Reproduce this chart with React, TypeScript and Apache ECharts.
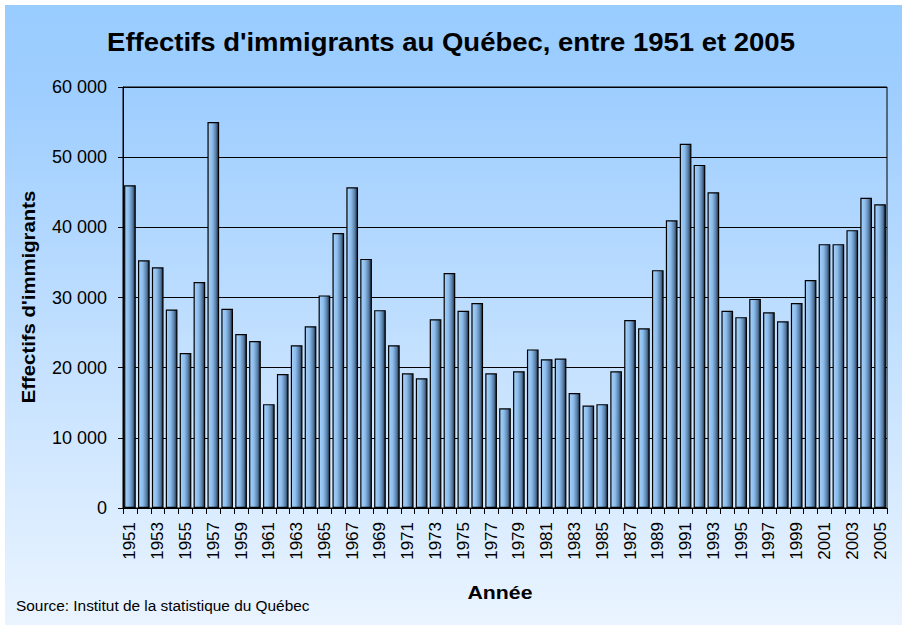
import React, { useEffect, useRef } from "react";
import * as echarts from "echarts";

const years: string[] = [];
for (let y = 1951; y <= 2005; y++) years.push(String(y));

const immigrants: number[] = [
  46000, 35300, 34300, 28300, 22100, 32200, 55000, 28400, 24800, 23800,
  14800, 19100, 23200, 25900, 30300, 39200, 45700, 35500, 28200, 23200,
  19200, 18500, 26900, 33500, 28100, 29200, 19200, 14200, 19500, 22600,
  21200, 21300, 16400, 14600, 14800, 19500, 26800, 25600, 33900, 41000,
  51900, 48900, 45000, 28100, 27200, 29800, 27900, 26600, 29200, 32500,
  37600, 37600, 39600, 44200, 43300,
];

const yTicks = [0, 10000, 20000, 30000, 40000, 50000, 60000];

const titleText = "Effectifs d'immigrants au Québec, entre 1951 et 2005";
const yName = "Effectifs d'immigrants";
const xName = "Année";
const sourceText = "Source: Institut de la statistique du Québec";

const FONT = "'Liberation Sans', Arial, sans-serif";

export default function App() {
  const ref = useRef<HTMLDivElement>(null);
  useEffect(() => {
    if (!ref.current) return;
    const chart = echarts.init(ref.current, undefined, { renderer: "svg" });
    const fmt = (v: number) =>
      String(Math.round(v)).replace(/\B(?=(\d{3})+(?!\d))/g, " ");
    chart.setOption({
      animation: false,
      graphic: [
        {
          type: "rect",
          z: -10,
          silent: true,
          shape: { x: 5, y: 5, width: 897, height: 620 },
          style: {
            fill: new echarts.graphic.LinearGradient(0, 0, 0, 1, [
              { offset: 0, color: "#99CCFF" },
              { offset: 0.15, color: "#9fceff" },
              { offset: 1, color: "#eaf4ff" },
            ]),
          },
        },
        {
          type: "text",
          x: 451,
          y: 42,
          scaleX: 1.1,
          style: {
            text: titleText,
            font: `bold 25px ${FONT}`,
            fill: "#000",
            align: "center",
            verticalAlign: "middle",
          },
        },
        {
          type: "text",
          x: 28,
          y: 297,
          rotation: Math.PI / 2,
          scaleX: 1.07,
          style: {
            text: yName,
            font: `bold 19px ${FONT}`,
            fill: "#000",
            align: "center",
            verticalAlign: "middle",
          },
        },
        {
          type: "text",
          x: 500,
          y: 592,
          scaleX: 1.12,
          style: {
            text: xName,
            font: `bold 19px ${FONT}`,
            fill: "#000",
            align: "center",
            verticalAlign: "middle",
          },
        },
        {
          type: "text",
          x: 16,
          y: 605,
          style: {
            text: sourceText,
            font: `15.4px ${FONT}`,
            fill: "#000",
            align: "left",
            verticalAlign: "middle",
          },
        },
      ],
      grid: { left: 123, right: 15, top: 87, bottom: 117, show: true, borderColor: "#000", borderWidth: 1, backgroundColor: "transparent" },
      xAxis: {
        type: "category",
        data: years,
        boundaryGap: true,
        axisLine: { show: true, lineStyle: { color: "#000", width: 1 } },
        axisTick: { show: true, interval: 0, length: 6, lineStyle: { color: "#000" } },
        axisLabel: {
          interval: 1,
          rotate: 90,
          margin: 14,
          fontSize: 17,
          fontFamily: FONT,
          color: "#000",
        },
      },
      yAxis: {
        type: "value",
        min: yTicks[0],
        max: yTicks[yTicks.length - 1],
        interval: 10000,
        axisLine: { show: true, lineStyle: { color: "#000", width: 1 } },
        axisTick: { show: true, length: 5, lineStyle: { color: "#000" } },
        splitLine: { show: true, lineStyle: { color: "#000", width: 1 } },
        axisLabel: {
          formatter: fmt,
          margin: 16,
          fontSize: 18,
          fontFamily: FONT,
          color: "#000",
        },
      },
      series: [
        {
          type: "bar",
          data: immigrants,
          barCategoryGap: "16%",
          itemStyle: {
            borderColor: "#000",
            borderWidth: 1.2,
            color: new echarts.graphic.LinearGradient(0, 0, 1, 0, [
              { offset: 0, color: "#a6d2fb" },
              { offset: 0.4, color: "#8cbcec" },
              { offset: 0.75, color: "#587ea6" },
              { offset: 1, color: "#1c2a3a" },
            ]),
          },
        },
      ],
    });
    return () => chart.dispose();
  }, []);
  return (
    <div
      ref={ref}
      style={{ position: "absolute", left: 0, top: 0, width: 902, height: 625 }}
    />
  );
}
